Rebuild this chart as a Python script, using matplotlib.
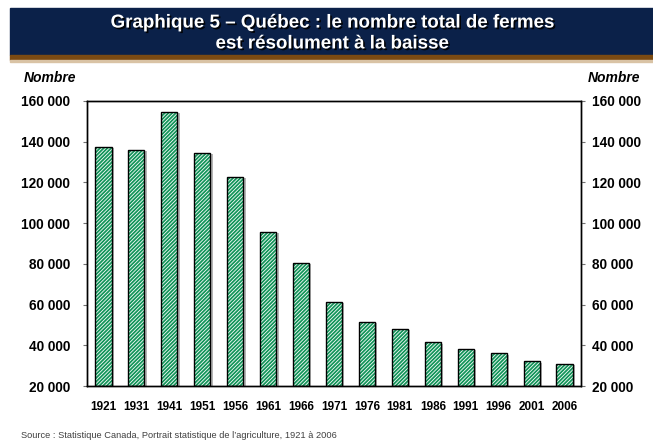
import matplotlib
matplotlib.use('Agg')
import matplotlib.pyplot as plt
from matplotlib.patches import Rectangle
import matplotlib.patheffects as pe
import numpy as np

plt.rcParams['font.family'] = ['Liberation Sans', 'DejaVu Sans']
plt.rcParams['hatch.linewidth'] = 1.3

# données
annees = ['1921', '1931', '1941', '1951', '1956', '1961', '1966', '1971',
          '1976', '1981', '1986', '1991', '1996', '2001', '2006']
fermes = [137619, 135957, 154669, 134336, 122617, 95777, 80294, 61257,
          51587, 48144, 41448, 38076, 35991, 32139, 30675]
yticks = [20000, 40000, 60000, 80000, 100000, 120000, 140000, 160000]

titre = 'Graphique 5 – Québec : le nombre total de fermes\nest résolument à la baisse'
source = 'Source : Statistique Canada, Portrait statistique de l\u2019agriculture, 1921 à 2006'

fig = plt.figure(figsize=(6.53, 4.43), dpi=100)
W, H = 653, 443

# bandeau du titre
fig.patches.append(Rectangle((10 / W, 1 - 55 / H), 1 - 10 / W, 47 / H,
                             transform=fig.transFigure, color='#0b2149', zorder=0))
fig.patches.append(Rectangle((10 / W, 1 - 60 / H), 1 - 10 / W, 5 / H,
                             transform=fig.transFigure, color='#7b4a12', zorder=0))
fig.patches.append(Rectangle((10 / W, 1 - 61.5 / H), 1 - 10 / W, 1.5 / H,
                             transform=fig.transFigure, color='#d9c3a5', zorder=0))
fig.text(332 / W, 1 - 33.5 / H, titre, ha='center', va='center', color='white',
         fontsize=13.5, fontweight='bold', linespacing=1.3,
         path_effects=[pe.withSimplePatchShadow(offset=(1.2, -1.2), shadow_rgbFace='black', alpha=0.9)])

ax = fig.add_axes([87 / W, 57 / H, 494 / W, 285 / H])
x = np.arange(len(annees))
largeur = 0.49
haut = np.array(fermes) - 20000

# ombre
ax.bar(x + 0.07, haut, width=largeur, bottom=19400,
       color='#b5b5b5', linewidth=0, zorder=1)
# hachures
ax.bar(x, haut, width=largeur, bottom=20000, color='white',
       edgecolor='#13955a', hatch='/////////', linewidth=0, zorder=2)
# contour
ax.bar(x, haut, width=largeur, bottom=20000, fill=False,
       edgecolor='black', linewidth=1.0, zorder=3)

ax.set_xlim(-0.5, len(annees) - 0.5)
ax.set_ylim(20000, 160000)
ax.set_xticks(x)
ax.set_xticklabels(annees, fontsize=8.5, fontweight='bold')
etiq = [f'{v:,}'.replace(',', ' ') for v in yticks]
ax.set_yticks(yticks)
ax.set_yticklabels(etiq, fontsize=9.8, fontweight='bold')
ax.tick_params(axis='x', length=0, pad=11)
ax.tick_params(axis='y', length=3, color='#707070', pad=9)

# axe de droite
ax2 = ax.twinx()
ax2.set_ylim(20000, 160000)
ax2.set_yticks(yticks)
ax2.set_yticklabels(etiq, fontsize=9.8, fontweight='bold')
ax2.tick_params(axis='y', length=3, color='#707070', pad=5)
for a in (ax, ax2):
    for s in a.spines.values():
        s.set_linewidth(1.0)

fig.text(50 / W, 1 - 78 / H, 'Nombre', ha='center', va='center', fontsize=10,
         fontweight='bold', style='italic')
fig.text(614 / W, 1 - 78 / H, 'Nombre', ha='center', va='center', fontsize=10,
         fontweight='bold', style='italic')
fig.text(21 / W, 1 - 436 / H, source, ha='left', va='center', fontsize=6.7, color='#404040')

plt.savefig('out.png', dpi=100)
